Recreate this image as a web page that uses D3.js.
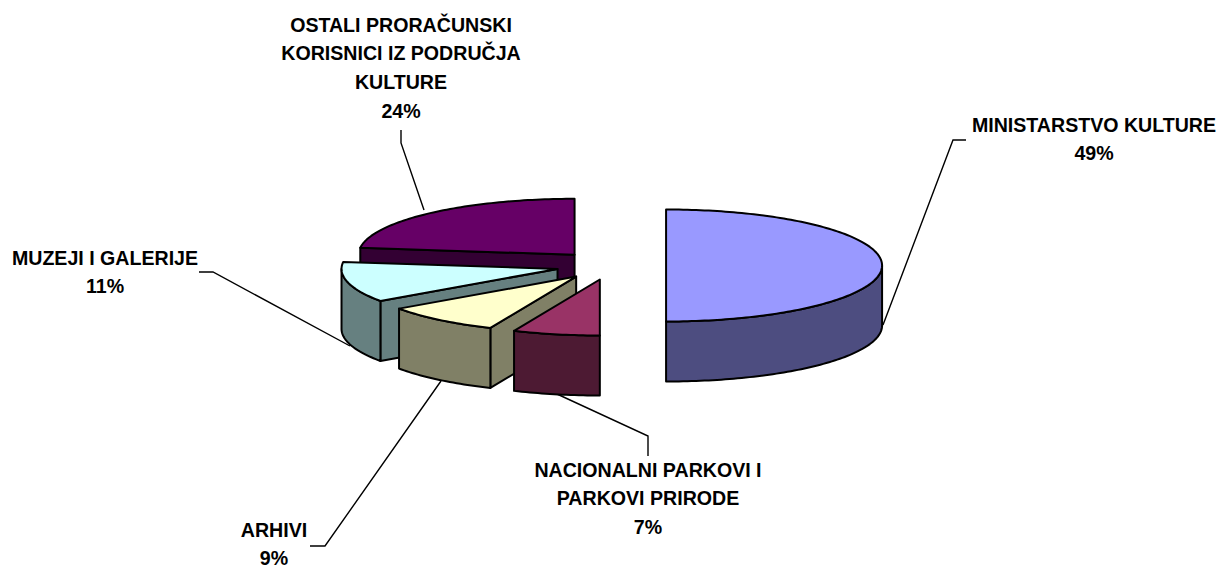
<!DOCTYPE html>
<html>
<head>
<meta charset="utf-8">
<script src="https://d3js.org/d3.v7.min.js"></script>
<style>
  html, body { margin: 0; padding: 0; background: #fff; }
  text { font-family: "Liberation Sans", Arial, sans-serif; font-weight: bold; font-size: 19.6px; fill: #000; }
</style>
</head>
<body>
<div id="chart"></div>
<script>
// the chart's values
var categories = ["MINISTARSTVO KULTURE", "NACIONALNI PARKOVI I PARKOVI PRIRODE", "ARHIVI", "MUZEJI I GALERIJE", "OSTALI PRORAČUNSKI KORISNICI IZ PODRUČJA KULTURE"];
var percentLabels = ["49%", "7%", "9%", "11%", "24%"];
// slice sizes as they were drawn in the picture (first slice reaches a full half)
var shares = [50, 6.5, 8.8, 11.7, 23];

// colours for top face and the darker wall
var topColors = ["#9999ff", "#993366", "#ffffcc", "#ccffff", "#660066"];
var wallColors = ["#4d4d80", "#4d1a33", "#808066", "#668080", "#330033"];

// label text is broken by hand, same as in the picture
var labelLines = [
    ["MINISTARSTVO KULTURE"],
    ["NACIONALNI PARKOVI I", "PARKOVI PRIRODE"],
    ["ARHIVI"],
    ["MUZEJI I GALERIJE"],
    ["OSTALI PRORAČUNSKI", "KORISNICI IZ PODRUČJA", "KULTURE"]
];
var labelX = [1094, 648, 274, 105, 401];
var labelY = [125, 470, 530, 258, 25];
var leaders = [
    [[966, 140], [953, 140], [883, 325]],
    [[648, 456], [648, 436], [557, 394]],
    [[310, 546], [325, 546], [441, 381]],
    [[199, 272], [213, 272], [350, 346]],
    [[401, 130], [401, 143], [424, 210]]
];

var width = 1225, height = 569;
var centerX = 611, centerY = 265.5, radiusX = 216, radiusY = 56, depth = 60, explode = 0.255;
var edgeWidth = 2;

var svg = d3.select("#chart").append("svg")
    .attr("width", width)
    .attr("height", height);

// unit circle to screen
var x = d3.scaleLinear().domain([-1, 1]).range([centerX - radiusX, centerX + radiusX]);
var y = d3.scaleLinear().domain([-1, 1]).range([centerY + radiusY, centerY - radiusY]);

var pie = d3.pie().sort(null);
var slices = pie(shares).map(function(d, i) {
    var mid = (d.startAngle + d.endAngle) / 2;
    d.index = i;
    d.ox = explode * Math.sin(mid);
    d.oy = explode * Math.cos(mid);
    return d;
});

function pt(d, a, drop) {
    return [x(d.ox + (a === null ? 0 : Math.sin(a))), y(d.oy + (a === null ? 0 : Math.cos(a))) + (drop || 0)];
}

function arcPoints(d, a0, a1, drop) {
    var n = Math.max(2, Math.ceil((a1 - a0) / 0.02));
    return d3.range(n + 1).map(function(k) { return pt(d, a0 + (a1 - a0) * k / n, drop); });
}

var line = d3.line();

function closed(points) { return line(points) + "Z"; }

function face(g, points, fill) {
    g.append("path")
        .attr("d", closed(points))
        .attr("fill", fill)
        .attr("stroke", "#000")
        .attr("stroke-width", edgeWidth)
        .attr("stroke-linejoin", "round");
}

function drawSlice(d) {
    var g = svg.append("g").attr("class", "slice");
    var wall = wallColors[d.index];

    // cut face at the start of the slice, only when it looks to the viewer
    if (d.startAngle > Math.PI + 0.01 && d.startAngle < 2 * Math.PI) {
        face(g, [pt(d, null), pt(d, d.startAngle), pt(d, d.startAngle, depth), pt(d, null, depth)], wall);
    }

    // outer wall, front half only
    var a0 = Math.max(d.startAngle, Math.PI / 2), a1 = Math.min(d.endAngle, 3 * Math.PI / 2);
    if (a1 > a0) {
        face(g, arcPoints(d, a0, a1, 0).concat(arcPoints(d, a0, a1, depth).reverse()), wall);
    }

    // top face
    face(g, [pt(d, null)].concat(arcPoints(d, d.startAngle, d.endAngle, 0)), topColors[d.index]);
}

// leader lines go under the pie
svg.append("g").selectAll("path")
    .data(leaders)
    .enter().append("path")
    .attr("d", function(d) { return line(d); })
    .attr("fill", "none")
    .attr("stroke", "#000")
    .attr("stroke-width", 1.4);

// back to front
[4, 3, 0, 2, 1].forEach(function(i) { drawSlice(slices[i]); });

// labels
categories.forEach(function(name, i) {
    var t = svg.append("text")
        .attr("class", "label")
        .attr("text-anchor", "middle")
        .attr("x", labelX[i])
        .attr("y", labelY[i])
        .attr("data-name", name);
    labelLines[i].concat(percentLabels[i]).forEach(function(s, k) {
        t.append("tspan")
            .attr("x", labelX[i])
            .attr("dy", k === 0 ? "0.35em" : 28.6)
            .text(s);
    });
});
</script>
</body>
</html>
